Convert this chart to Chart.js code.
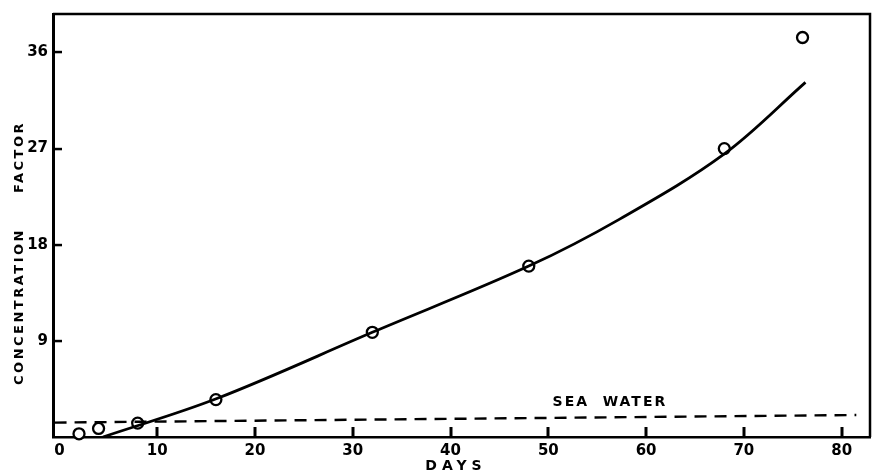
<!DOCTYPE html>
<html>
<head>
<meta charset="utf-8">
<script src="https://cdn.jsdelivr.net/npm/chart.js@4.4.1/dist/chart.umd.min.js"></script>
<style>
    html, body { margin: 0; padding: 0; background: #fff; }
    canvas { display: block; }
</style>
</head>
<body>
<canvas id="concChart" width="873" height="472"></canvas>
<script>
// values
const obsDays = [2, 4, 8, 16, 32, 48, 68, 76];
const obsFactor = [0.3, 0.8, 1.3, 3.5, 9.8, 16.0, 27.0, 37.4];

// fitted curve (hand-drawn in the original)
const curveDays = [4.45, 16.1, 32, 48, 57.3, 68, 76.3];
const curveFactor = [0, 3.6, 9.8, 16.0, 20.4, 26.5, 33.2];

// sea water reference level (dashed, slightly tilted in the scan)
const seaDays = [-0.5, 81.5];
const seaFactor = [1.35, 2.06];

const xTicks = [0, 10, 20, 30, 40, 50, 60, 70, 80];
const yTicks = [9, 18, 27, 36];

const INK = '#000';
const FONT = '"DejaVu Sans", "Liberation Sans", sans-serif';

function pairs(xs, ys) {
    return xs.map((x, i) => ({ x: x, y: ys[i] }));
}

// frame, inward tick marks and the hand lettered labels
const paperPlugin = {
    id: 'paper',
    afterDraw(chart) {
        const ctx = chart.ctx;
        const area = chart.chartArea;
        const xs = chart.scales.x;
        const ys = chart.scales.y;

        ctx.save();
        ctx.setLineDash([]);
        ctx.strokeStyle = INK;
        ctx.lineWidth = 2.5;
        ctx.beginPath();
        ctx.moveTo(area.left, area.top);
        ctx.lineTo(area.right, area.top);
        ctx.lineTo(area.right, area.bottom);
        ctx.stroke();

        // ticks point into the plot
        ctx.fillStyle = INK;
        xTicks.forEach(v => {
            if (v === 0) return;
            const px = Math.round(xs.getPixelForValue(v));
            ctx.fillRect(px - 1.5, area.bottom - 10, 3, 10);
        });
        yTicks.forEach(v => {
            const py = Math.round(ys.getPixelForValue(v));
            ctx.fillRect(area.left, py - 1.2, 9, 2.5);
        });

        ctx.textAlign = 'center';
        ctx.textBaseline = 'middle';

        // SEA WATER label
        ctx.font = 'bold 14px ' + FONT;
        ctx.letterSpacing = '2px';
        ctx.fillText('SEA  WATER', xs.getPixelForValue(56.3), ys.getPixelForValue(3.2));

        // x title
        ctx.letterSpacing = '5px';
        ctx.fillText('DAYS', 456, 466);

        // y title
        ctx.translate(20, 253);
        ctx.rotate(-Math.PI / 2);
        ctx.font = 'bold 13px ' + FONT;
        ctx.letterSpacing = '2.5px';
        ctx.fillText('CONCENTRATION     FACTOR', 0, 0);
        ctx.restore();
    }
};

const chart = new Chart(document.getElementById('concChart'), {
    type: 'line',
    data: {
        datasets: [
            {
                label: 'Sea water',
                data: pairs(seaDays, seaFactor),
                borderColor: INK,
                borderWidth: 2.4,
                borderDash: [12, 8],
                pointRadius: 0,
                fill: false
            },
            {
                label: 'Fitted curve',
                data: pairs(curveDays, curveFactor),
                borderColor: INK,
                borderWidth: 2.8,
                tension: 0.35,
                pointRadius: 0,
                fill: false
            },
            {
                label: 'Observed',
                data: pairs(obsDays, obsFactor),
                showLine: false,
                pointRadius: 5.5,
                pointBorderWidth: 2.3,
                pointBorderColor: INK,
                pointBackgroundColor: '#fff',
                clip: false
            }
        ]
    },
    options: {
        responsive: false,
        animation: false,
        layout: { autoPadding: false, padding: { top: 14, right: 3, left: 0, bottom: 0 } },
        plugins: {
            legend: { display: false },
            tooltip: { enabled: false }
        },
        scales: {
            x: {
                type: 'linear',
                min: -0.66,
                max: 82.9,
                afterBuildTicks: (axis) => { axis.ticks = xTicks.map(v => ({ value: v })); },
                afterFit: (axis) => {
                    axis.height = 35;
                    axis.paddingLeft = 0;
                    axis.paddingRight = 0;
                },
                border: { display: true, color: INK, width: 2.5 },
                grid: { drawOnChartArea: false, drawTicks: false },
                ticks: {
                    color: INK,
                    padding: 5,
                    maxRotation: 0,
                    autoSkip: false,
                    font: { family: FONT, size: 15, weight: 'bold' }
                }
            },
            y: {
                type: 'linear',
                min: 0,
                max: 39.6,
                afterBuildTicks: (axis) => { axis.ticks = yTicks.map(v => ({ value: v })); },
                afterFit: (axis) => { axis.width = 53; },
                border: { display: true, color: INK, width: 3 },
                grid: { drawOnChartArea: false, drawTicks: false },
                ticks: {
                    color: INK,
                    padding: 5,
                    autoSkip: false,
                    font: { family: FONT, size: 15, weight: 'bold' }
                }
            }
        }
    },
    plugins: [paperPlugin]
});
</script>
</body>
</html>
